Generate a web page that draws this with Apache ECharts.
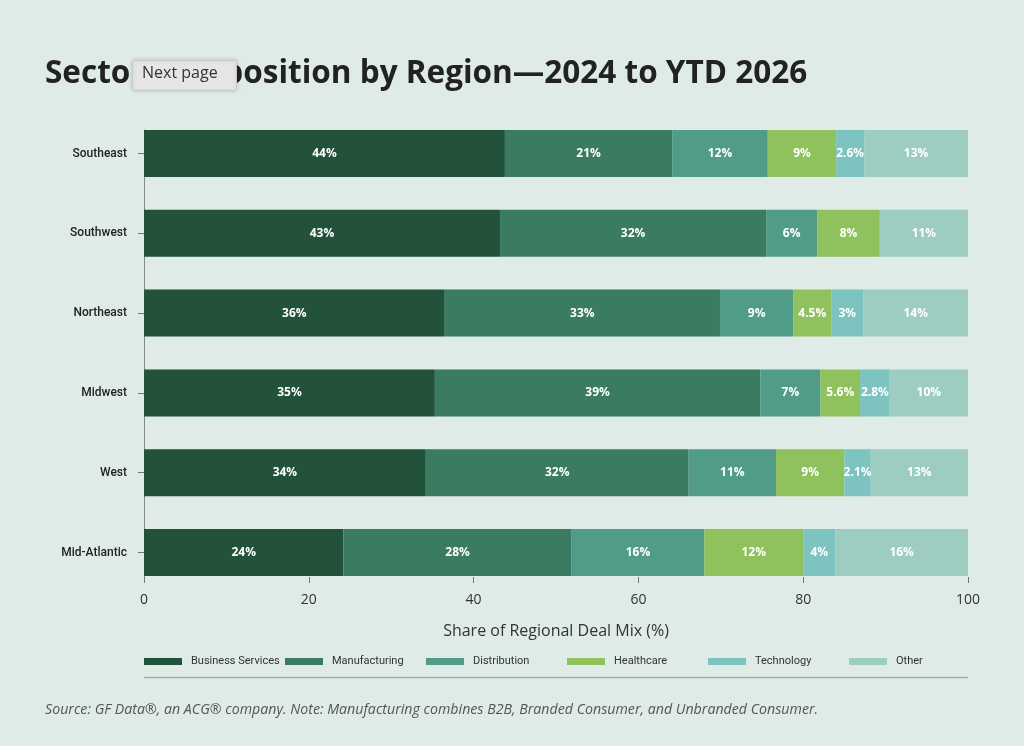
<!DOCTYPE html>
<html>
<head>
<meta charset="utf-8">
<script src="https://cdn.jsdelivr.net/npm/echarts@6/dist/echarts.min.js"></script>
<style>
html,body{margin:0;padding:0;background:#dfebe7;}
#c{width:1024px;height:746px;}
</style>
</head>
<body>
<div id="c"></div>
<script>
const regions = ['Southeast','Southwest','Northeast','Midwest','West','Mid-Atlantic'];
const sectors = ['Business Services','Manufacturing','Distribution','Healthcare','Technology','Other'];
const businessServices = [43.8, 43.2, 36.5, 35.3, 34.2, 24.2];
const manufacturing    = [20.3, 32.3, 33.4, 39.5, 31.9, 27.7];
const distribution     = [11.6, 6.2, 8.9, 7.3, 10.6, 16.1];
const healthcare       = [8.3, 7.6, 4.6, 4.8, 8.3, 12.0];
const technology       = [3.4, 0, 3.9, 3.6, 3.2, 3.9];
const other            = [12.6, 10.7, 12.7, 9.5, 11.8, 16.1];
const lblBusiness = ['44%','43%','36%','35%','34%','24%'];
const lblManuf    = ['21%','32%','33%','39%','32%','28%'];
const lblDist     = ['12%','6%','9%','7%','11%','16%'];
const lblHealth   = ['9%','8%','4.5%','5.6%','9%','12%'];
const lblTech     = ['2.6%','','3%','2.8%','2.1%','4%'];
const lblOther    = ['13%','11%','14%','10%','13%','16%'];
const xTicks = [0, 20, 40, 60, 80, 100];

const colors = ['#22523a','#3a7b62','#519c89','#8fc15c','#7dc3c0','#9dcdc1'];
const values = [businessServices, manufacturing, distribution, healthcare, technology, other];
const labels = [lblBusiness, lblManuf, lblDist, lblHealth, lblTech, lblOther];

const series = sectors.map((name, i) => ({
  name: name,
  type: 'bar',
  stack: 'total',
  xAxisIndex: 0,
  yAxisIndex: 0,
  barWidth: 47,
  itemStyle: { color: colors[i] },
  label: {
    show: true,
    position: 'inside',
    color: '#ffffff',
    fontFamily: '"Open Sans",sans-serif',
    fontWeight: 'bold',
    fontSize: 12,
    formatter: p => labels[i][p.dataIndex]
  },
  emphasis: { disabled: true },
  data: values[i]
}));

const legends = sectors.map((name, i) => ({
  data: [name],
  left: 144 + i * 141, top: 656,
  padding: 0,
  itemWidth: 38, itemHeight: 7,
  icon: 'rect',
  selectedMode: false,
  textStyle: { color: '#333', fontFamily: 'Roboto,sans-serif', fontSize: 11, padding: [0,0,0,4] }
}));

const chart = echarts.init(document.getElementById('c'), null, {renderer:'canvas'});
chart.setOption({
  backgroundColor: '#dfebe7',
  animation: false,
  title: {
    text: 'Sector Composition by Region\u20142024 to YTD 2026',
    left: 40, top: 53,
    textStyle: { fontFamily: '"Open Sans",sans-serif', fontWeight: 'bold', fontSize: 31.5, color: '#222' }
  },
  grid: [
    { left: 144, right: 56, top: 113.6, bottom: 153.6 },
    { left: 144, right: 56, top: 130, bottom: 169 }
  ],
  xAxis: [
    { type: 'value', gridIndex: 0, min: 0, max: 100, show: false },
    {
      type: 'value', gridIndex: 1, min: 0, max: 100, interval: 20,
      axisLine: { show: false },
      axisTick: { show: true, length: 6, lineStyle: { color: '#777' } },
      splitLine: { show: false },
      axisLabel: { color: '#333', fontFamily: '"Open Sans",sans-serif', fontSize: 14, margin: 16,
                   formatter: v => String(v) },
      name: 'Share of Regional Deal Mix (%)',
      nameLocation: 'middle',
      nameGap: 46,
      nameTextStyle: { color: '#333', fontFamily: '"Open Sans",sans-serif', fontSize: 16 }
    }
  ],
  yAxis: [
    {
      type: 'category', gridIndex: 0, data: regions, inverse: true,
      axisLine: { show: false },
      axisTick: { show: true, alignWithLabel: true, length: 6, lineStyle: { color: '#777' } },
      axisLabel: { color: '#222', fontFamily: 'Roboto,sans-serif', fontWeight: 500, fontSize: 12, margin: 17 }
    },
    {
      type: 'value', gridIndex: 1, min: 0, max: 1,
      axisLine: { show: true, lineStyle: { color: '#888', width: 1 } },
      axisTick: { show: false }, axisLabel: { show: false }, splitLine: { show: false }
    }
  ],
  legend: legends,
  graphic: [
    { type: 'line', z: 100, shape: { x1: 144, y1: 677.5, x2: 968, y2: 677.5 }, style: { stroke: '#a3aba7', lineWidth: 1.5 } },
    { type: 'text', z: 100, left: 45, top: 703,
      style: { text: 'Source: GF Data\u00ae, an ACG\u00ae company. Note: Manufacturing combines B2B, Branded Consumer, and Unbranded Consumer.',
               fill: '#555', fontFamily: '"Open Sans",sans-serif', fontStyle: 'italic', fontSize: 14.2 } },
    { type: 'rect', z: 100, left: 132, top: 60, shape: { width: 104, height: 30, r: 2 },
      style: { fill: '#e6e6e4', stroke: '#c8c8c8', lineWidth: 1, shadowBlur: 4, shadowColor: 'rgba(0,0,0,0.15)' } },
    { type: 'text', z: 101, left: 142, top: 65,
      style: { text: 'Next page', fill: '#333', fontFamily: '"Open Sans",sans-serif', fontSize: 16 } }
  ],
  series: series
});
</script>
</body>
</html>
